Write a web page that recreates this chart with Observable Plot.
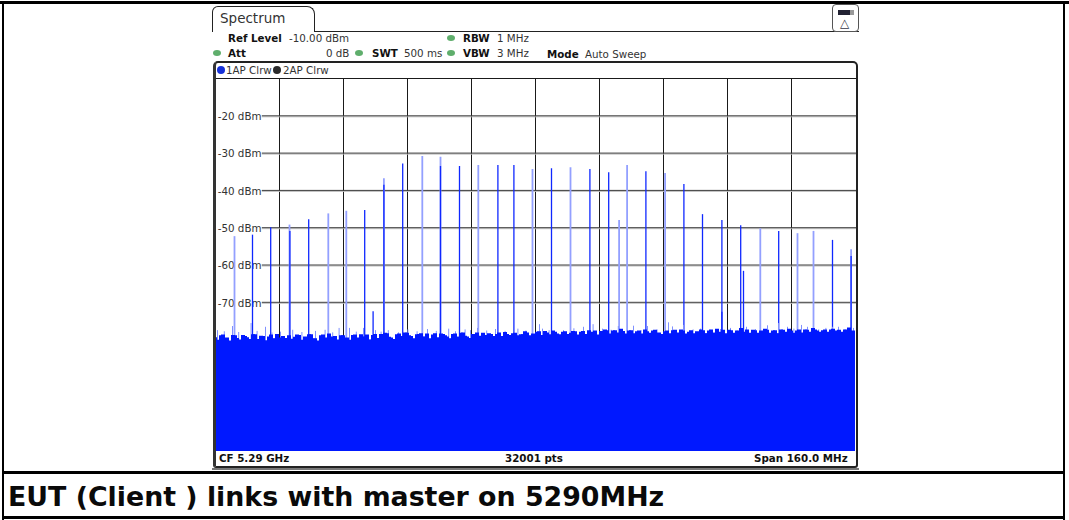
<!DOCTYPE html>
<html><head><meta charset="utf-8">
<script src="https://cdn.jsdelivr.net/npm/d3@7"></script>
<script src="https://cdn.jsdelivr.net/npm/@observablehq/plot@0.6"></script>
<style>
html,body{margin:0;padding:0;background:#fff;width:1069px;height:520px;overflow:hidden}
body{position:relative;font-family:"DejaVu Sans",sans-serif}
#chart{position:absolute;left:0;top:0}
#chart svg{display:block}
.t{position:absolute;font-size:10.3px;line-height:12px;color:#333;white-space:pre}
.b{font-weight:bold;color:#111}
.box{position:absolute;box-sizing:border-box}
.led{position:absolute;width:8px;height:6px;border-radius:50%;background:#5fae6c}
.dot{position:absolute;width:8px;height:8px;border-radius:50%}
#caption{position:absolute;left:8px;top:480px;font:bold 26.8px/34px "DejaVu Sans",sans-serif;color:#0a0a0a;white-space:pre}
</style></head><body>
<div id="chart"></div>
<script>
const gridFreqs = [5226,5242,5258,5274,5290,5306,5322,5338,5354];
const levelTicks = [-20,-30,-40,-50,-60,-70];
const faintFreqs = [5214.75,5228.5,5238.2,5242.7,5252.1,5261.7,5266.25,5275.7,5289.25,5298.75,5310.9,5312.9,5322.4,5346.2,5355.5,5359.5,5368.9];
const faintLevels = [-52.4,-49.3,-46.3,-45.6,-36.9,-30.9,-31.1,-33.3,-34.4,-33.9,-48.1,-33.3,-35.5,-50.3,-51.6,-51.0,-55.9];
const solidFreqs = [5219.25,5223.8,5228.6,5233.3,5247.3,5249.4,5252.1,5256.8,5266.25,5271,5280.6,5284.6,5294,5303.6,5308.3,5317.6,5327.1,5331.75,5336.6,5336.6,5341.3,5342,5350.8,5364.25,5368.9];
const solidLevels = [-52.0,-50.0,-51.0,-47.9,-45.4,-72.5,-38.6,-32.9,-33.6,-33.6,-33.3,-33.3,-34.2,-34.4,-35.3,-35.0,-38.4,-46.5,-48.1,-72.7,-49.5,-61.7,-51.0,-53.4,-57.7];
const spikeFreqs = [5210.5,5212.2,5214.25,5215.8,5218.9,5220.4,5222.5,5224.1,5226.25,5229.3,5231.6,5235,5237.4,5239.3,5240.9,5243.5,5245.2,5247,5250,5251.4,5253.2,5255.75,5258.1,5260.4,5263,5265.2,5268.3,5270,5272.4,5273.75,5275.5,5277.8,5280,5282.4,5285.6,5287.6,5291,5291.75,5293.4,5295,5297,5299.6,5302,5304.4,5306.75,5308.9,5310.7,5314.5,5316.4,5318,5320.4,5323.25,5324.25,5327,5329.4,5331.25,5333.8,5336.25,5338.75,5340.4,5342.75,5345,5348,5350.75,5353,5354.6,5356.5,5358,5360.8,5362.6,5364.25,5365.75,5367.4,5369.5];
const spikeLevels = [-77.6,-77.9,-76.5,-78.1,-75.7,-77.8,-76.7,-78.2,-78,-77.5,-78.1,-77.8,-77.5,-78.2,-77,-77,-78,-77,-77.6,-78,-77.6,-78.2,-77.4,-77.9,-77.3,-77.8,-77.2,-77.9,-77.4,-77.6,-77,-77.7,-77.3,-77.8,-77.2,-77.7,-76,-77.2,-77.6,-78.2,-77.6,-77.1,-76.7,-76,-77.2,-77.5,-76.5,-76.4,-77.6,-76.5,-77.4,-75.5,-76.6,-76.2,-77.4,-77.2,-77.5,-77.3,-77,-77.6,-76.7,-77.3,-76.3,-75.7,-76.7,-77.2,-76.2,-76.7,-77.4,-77,-76.7,-76.7,-77.3,-77];
const noiseFloorA = [
-80.2,-79.0,-79.9,-80.4,-78.9,-79.7,-80.6,-79.2,-80.0,-78.7,-80.1,-79.1,-80.3,-79.3,-79.8,-78.6,-79.6,-80.5,-79.0,-79.9,
-78.8,-80.2,-79.3,-78.7,-79.9,-80.4,-79.0,-79.6,-78.5,-79.3,-80.1,-79.0,-79.8,-80.6,-78.9,-79.6,-78.7,-79.3,-80.1,-78.9,
-79.7,-78.6,-78.3,-79.4,-80.0,-78.7,-79.2,-78.2,-79.0,-79.8,-78.7,-78.4,-79.3,-80.0,-78.8,-79.5,-78.5,-79.0,-79.8,-78.6,
-79.4,-78.3,-79.1,-79.7,-78.6,-78.2,-79.4,-78.9,-78.4,-79.2,-78.6,-79.4,-78.1,-78.9,-78.4,-79.2,-78.7,-77.9,-79.0,-78.5,
-78.0,-78.9,-77.8,-78.7,-77.7,-78.5,-79.0,-77.9,-78.6,-77.8,-78.8,-78.0,-78.6,-77.6,-78.4,-78.9,-77.8,-77.4,-78.5,-77.7,
-78.2,-77.2,-78.5,-77.7,-78.8,-77.9,-78.5,-77.4,-78.3,-77.7,-78.5,-79.0,-77.9,-78.5,-77.6,-78.2,-77.4,-78.5,-78.0,-78.8,
-77.9,-77.4,-78.5,-77.7,-78.3,-77.2,-78.0,-78.6,-77.5,-78.3,-77.7,-77.0,-78.0,-78.6,-77.5,-78.3,-77.7,-77.2,-78.3,-77.7,
-78.5,-77.4,-78.0,-77.2,-78.3,-77.7,-78.5,-77.4,-78.0,-77.0,-77.7,-78.3,-77.4,-78.0,-77.2,-77.7,-78.3,-77.4,-76.9,-77.7,-77.7];
const noiseFloorB = [
-79.5,-80.3,-78.8,-79.6,-80.5,-79.0,-80.1,-78.9,-79.5,-80.4,-78.7,-80.0,-79.2,-80.5,-78.8,-79.9,-80.6,-79.2,-79.7,-80.3,
-79.4,-78.9,-80.4,-79.6,-78.7,-79.8,-80.5,-78.8,-79.9,-80.4,-79.2,-80.6,-79.0,-79.6,-80.2,-78.8,-80.0,-79.4,-78.8,-80.2,
-78.6,-79.9,-79.2,-78.4,-79.6,-80.1,-78.5,-79.5,-78.3,-79.2,-80.0,-78.6,-79.4,-78.5,-79.8,-78.4,-79.7,-78.6,-79.3,-79.9,
-78.5,-79.4,-78.2,-79.3,-79.8,-78.6,-79.1,-78.3,-79.5,-78.6,-79.3,-78.2,-79.2,-78.6,-79.5,-78.3,-79.0,-78.7,-78.2,-79.3,
-78.6,-77.9,-79.0,-78.2,-79.1,-78.0,-78.7,-78.0,-79.2,-78.3,-77.9,-78.9,-77.8,-78.7,-78.0,-77.7,-78.8,-78.2,-77.6,-78.6,
-77.6,-78.5,-77.8,-78.7,-77.6,-78.4,-77.7,-78.7,-77.9,-78.6,-77.5,-78.2,-78.6,-77.7,-78.5,-77.5,-78.4,-77.7,-78.6,-77.6,
-78.4,-78.7,-77.6,-78.4,-77.4,-78.3,-78.6,-77.5,-78.4,-77.6,-78.5,-77.8,-78.4,-77.4,-78.3,-77.6,-78.4,-78.0,-77.5,-78.4,
-77.6,-78.4,-77.5,-78.3,-77.7,-78.5,-77.4,-78.2,-77.5,-78.3,-77.4,-78.0,-77.6,-78.3,-77.4,-78.2,-77.5,-78.0,-77.6,-77.9,-77.9];
const noiseFreqsA = noiseFloorA.map((_, i) => 5210 + i);
const noiseFreqsB = noiseFloorB.map((_, i) => 5209.5 + i);
const blue = "#0018ff";

const chart = Plot.plot({
  width: 1069, height: 470,
  marginLeft: 215, marginRight: 213, marginTop: 78, marginBottom: 19,
  style: {fontFamily: '"DejaVu Sans",sans-serif', fontSize: "10.3px", background: "transparent", color: "#333"},
  x: {domain: [5210, 5370.25], axis: null},
  y: {domain: [-110, -10], axis: null},
  marks: [
    Plot.ruleX(gridFreqs, {stroke: "#1a1a1a", strokeWidth: 1}),
    Plot.ruleY(levelTicks, {x1: 5221.7, x2: 5370.25, stroke: "#bdbdbd", strokeWidth: 1, dy: 1}),
    Plot.ruleY(levelTicks, {x1: 5221.7, x2: 5370.25, stroke: "#3c3c3c", strokeWidth: 1}),
    Plot.ruleY([-10], {stroke: "#1a1a1a", strokeWidth: 1}),
    Plot.axisY({ticks: levelTicks, tickSize: 0, tickPadding: -46, dy: 1, tickFormat: d => d + " dBm", label: null, fill: "#333"}),
    Plot.ruleX(faintFreqs, {x: d => d, y1: -110, y2: (d, i) => faintLevels[i], stroke: "#93a0ff", strokeWidth: 1.8}),
    Plot.ruleX(solidFreqs, {x: d => d, y1: -110, y2: (d, i) => solidLevels[i], stroke: "#0f28ff", strokeWidth: 1.3}),
    Plot.ruleX(spikeFreqs, {x: d => d, y1: -110, y2: (d, i) => spikeLevels[i], stroke: "#7f90ff", strokeWidth: 1}),
    Plot.areaY(noiseFreqsA, {x: d => d, y1: -110, y2: (d, i) => noiseFloorA[i], curve: "step-after", fill: blue}),
    Plot.areaY(noiseFreqsB, {x: d => d, y1: -110, y2: (d, i) => noiseFloorB[i], curve: "step-after", fill: blue, clip: true})
  ]
});
document.getElementById("chart").append(chart);

const txt = [
 ["Spectrum",220,12,"",13.5],
 ["Ref Level",228,32,"b"],["-10.00 dBm",289,32,""],["RBW",463,32,"b"],["1 MHz",497,32,""],
 ["Att",228,47,"b"],["0 dB",326,47,""],["SWT",372,47,"b"],["500 ms",404,47,""],["VBW",463,47,"b"],["3 MHz",497,47,""],
 ["Mode",547,48,"b"],["Auto Sweep",585,48,""],
 ["1AP Clrw",226,64,""],["2AP Clrw",283,64,""],
 ["CF 5.29 GHz",219,452,"b"],["32001 pts",505,452,"b"],["Span 160.0 MHz",754,452,"b"]
];
const add = (cls, css, text) => {
  const e = document.createElement("div"); e.className = cls; e.style.cssText = css;
  if (text) e.textContent = text; document.body.append(e); return e;
};
// outer frame and the caption box
add("box","left:0;top:1px;width:1069px;height:3px;background:#000");
add("box","left:2px;top:1px;width:2px;height:519px;background:#000");
add("box","left:1063px;top:1px;width:2px;height:519px;background:#000");
add("box","left:2px;top:471px;width:1063px;height:3px;background:#000");
add("box","left:2px;top:516px;width:1063px;height:3px;background:#000");
// tab, header rule and instrument panel
add("box","left:212px;top:6px;width:103px;height:26px;border:1.5px solid #222;border-bottom:0;border-radius:6px 8px 0 0;background:#fff");
add("box","left:315px;top:31px;width:544px;height:1px;background:#222");
add("box","left:213px;top:61px;width:645px;height:407px;border:2px solid #222;border-left:3px solid #333;border-radius:5px 5px 3px 3px");
add("box","left:212px;top:468px;width:647px;height:2px;background:#777");
// sweep status icon
add("box","left:832px;top:4px;width:27px;height:28px;border:1px solid #555;border-radius:4px;background:#fff");
add("box","left:838px;top:10px;width:16px;height:5px;background:linear-gradient(90deg,#223 0 75%,#999 75%)");
add("t","left:840px;top:17px;font-size:12px;color:#334","△");
// status lamps and trace dots
[[213,50],[447,35],[355,50],[447,50]].forEach(([x,y]) => add("led",`left:${x}px;top:${y}px`));
add("dot","left:217px;top:66px;background:#1530d8");
add("dot","left:273px;top:66px;background:#2a2a2a");
txt.forEach(([s,x,y,c,size]) => add("t "+c,`left:${x}px;top:${y}px;`+(size?`font-size:${size}px;`:""),s));
const cap = document.createElement("div"); cap.id = "caption";
cap.textContent = "EUT (Client ) links with master on 5290MHz"; document.body.append(cap);
</script></body></html>
